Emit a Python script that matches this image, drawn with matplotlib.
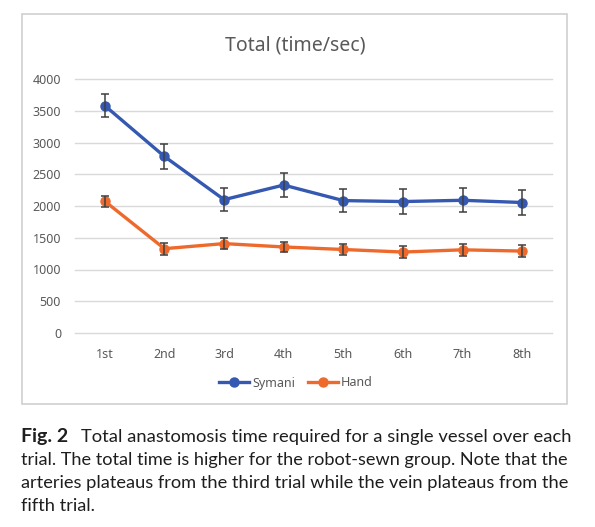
import matplotlib
matplotlib.use("Agg")
import matplotlib.pyplot as plt
from matplotlib.patches import Rectangle
from matplotlib.lines import Line2D

trials = ["1st", "2nd", "3rd", "4th", "5th", "6th", "7th", "8th"]
symani_mean = [3580, 2780, 2100, 2330, 2085, 2070, 2090, 2055]
symani_err = [185, 190, 185, 185, 182, 190, 187, 190]
hand_mean = [2075, 1328, 1408, 1355, 1315, 1275, 1310, 1290]
hand_err = [90, 95, 90, 85, 92, 92, 90, 92]

blue = "#3558B0"
orange = "#EE6A2C"
grey_txt = "#595959"
chart_font = ["Noto Sans", "DejaVu Sans"]
caption_font = ["Lato", "DejaVu Sans"]

W, H = 595, 527
fig = plt.figure(figsize=(W / 100, H / 100), dpi=100)

# chart frame
fig.patches.append(Rectangle((22 / W, 1 - 404 / H), (567 - 22) / W, (404 - 14) / H,
                             transform=fig.transFigure, fill=False,
                             edgecolor="#D0D0D0", linewidth=1.2))

ax = fig.add_axes([75 / W, 1 - 333 / H, (552 - 75) / W, (333 - 79) / H])
x = list(range(len(trials)))

ax.plot(x, symani_mean, color=blue, lw=2.4, marker="o", ms=6.5, zorder=3)
ax.plot(x, hand_mean, color=orange, lw=2.4, marker="o", ms=6.5, zorder=3)
ax.errorbar(x, symani_mean, yerr=symani_err, fmt="none", ecolor="#3F3F3F",
            elinewidth=1.1, capsize=3, capthick=1.1, zorder=4)
ax.errorbar(x, hand_mean, yerr=hand_err, fmt="none", ecolor="#3F3F3F",
            elinewidth=1.1, capsize=3, capthick=1.1, zorder=4)

ax.set_xlim(-0.5, len(trials) - 0.5)
ax.set_ylim(0, 4000)
ax.set_yticks(range(0, 4001, 500))
ax.set_xticks(x)
ax.set_xticklabels(trials)
ax.grid(axis="y", color="#D9D9D9", lw=1)
for gl in ax.yaxis.get_gridlines():
    gl.set_clip_on(False)
ax.set_axisbelow(True)
for s in ax.spines.values():
    s.set_visible(False)
ax.tick_params(length=0, labelsize=9, colors=grey_txt)
ax.tick_params(axis="y", pad=10)
ax.tick_params(axis="x", pad=11)
for lab in ax.get_xticklabels() + ax.get_yticklabels():
    lab.set_family(chart_font)

fig.text(295 / W, 1 - 46 / H, "Total (time/sec)", ha="center", va="center",
         fontsize=14, color=grey_txt, family=chart_font)

handles = [Line2D([], [], color=blue, lw=2.4, marker="o", ms=6.5),
           Line2D([], [], color=orange, lw=2.4, marker="o", ms=6.5)]
fig.legend(handles, ["Symani", "Hand"], loc="center", bbox_to_anchor=(296 / W, 1 - 383 / H),
           ncol=2, frameon=False, handlelength=2.4, handletextpad=0.25,
           columnspacing=1.0, prop={"family": chart_font, "size": 9},
           labelcolor=grey_txt)

# caption, each full line sized to reach the right margin (justified look)
cap_color = "#1E1E1E"
renderer = fig.canvas.get_renderer()
fig.text(21 / W, 1 - 442 / H, "Fig. 2", ha="left", va="baseline", fontsize=14,
         fontweight="bold", color=cap_color, family=caption_font)
lines = ["Total anastomosis time required for a single vessel over each",
         "trial. The total time is higher for the robot-sewn group. Note that the",
         "arteries plateaus from the third trial while the vein plateaus from the",
         "fifth trial."]
baselines = [442, 465, 488, 511]
starts = [81, 21, 21, 21]
right_edge = 571
base_size = 14
sizes = []
for txt, yb, xs in zip(lines, baselines, starts):
    t = fig.text(xs / W, 1 - yb / H, txt, ha="left", va="baseline", fontsize=base_size,
                 color=cap_color, family=caption_font)
    if txt != lines[-1]:
        w = t.get_window_extent(renderer).width
        t.set_fontsize(base_size * (right_edge - xs) / w)
        sizes.append(t.get_fontsize())
    else:
        t.set_fontsize(sum(sizes) / len(sizes))

fig.savefig("out.png", dpi=100)
